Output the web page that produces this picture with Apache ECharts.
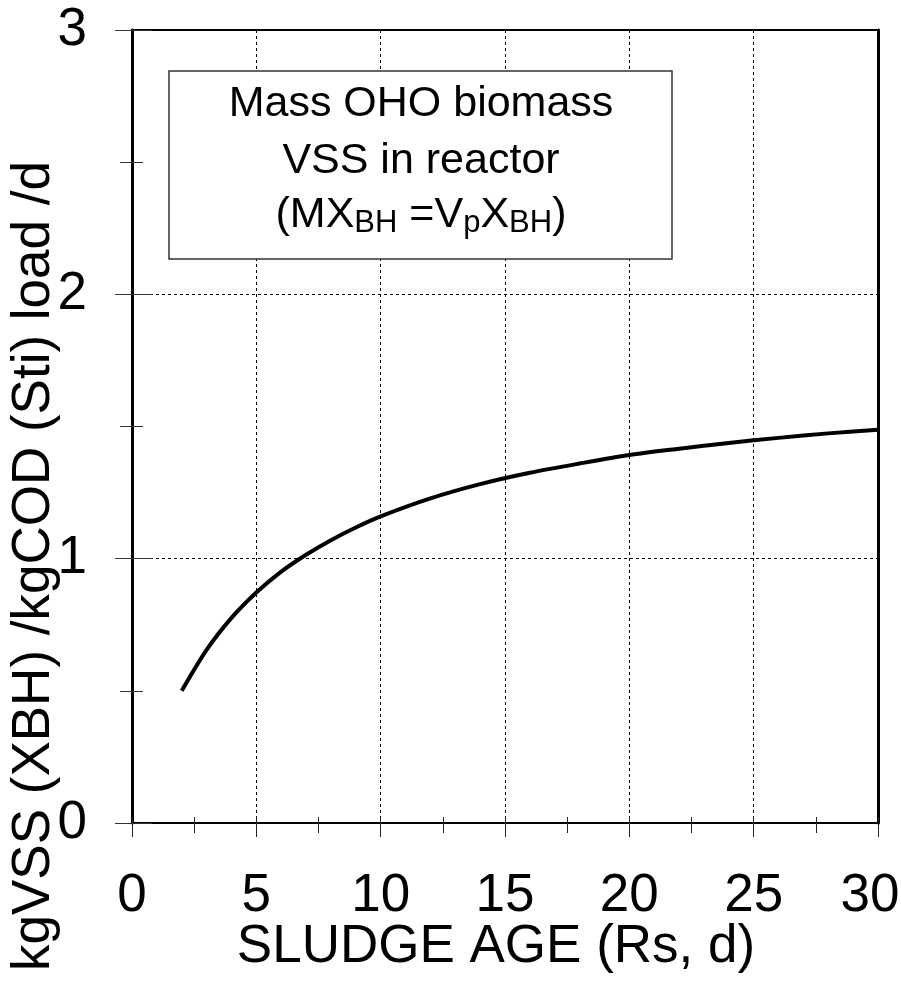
<!DOCTYPE html>
<html>
<head>
<meta charset="utf-8">
<script src="https://cdn.jsdelivr.net/npm/echarts@6/dist/echarts.min.js"></script>
<style>
html,body{margin:0;padding:0;background:#fff;overflow:hidden;width:901px;height:983px;}
#chart{position:absolute;left:0;top:0;width:901px;height:983px;}
</style>
</head>
<body>
<div id="chart"></div>
<script>
// Data
var sludgeAge = [2, 3, 4, 5, 6, 7, 8, 9, 10, 12, 14, 16, 18, 20, 22, 24, 26, 28, 30];
var biomassVSS = [0.50, 0.655, 0.776, 0.872, 0.951, 1.015, 1.07, 1.118, 1.16, 1.228, 1.282, 1.325, 1.36, 1.392, 1.416, 1.438, 1.457, 1.474, 1.488];
var xTicks = [0, 5, 10, 15, 20, 25, 30];
var yTicks = [0, 1, 2, 3];
var xTitle = 'SLUDGE AGE (Rs, d)';
var yTitle = 'kgVSS (XBH) /kgCOD (Sti) load /d';
var boxLines = ['Mass OHO biomass', 'VSS in reactor', '(MX{s|BH} =V{s|p}X{s|BH})'];

var FONT = '"Liberation Sans", Arial, sans-serif';
var chart = echarts.init(document.getElementById('chart'), null, {renderer: 'canvas', width: 901, height: 983});

var points = sludgeAge.map(function (x, i) { return [x, biomassVSS[i]]; });

var xMin = xTicks[0], xMax = xTicks[xTicks.length - 1];
var yMin = yTicks[0], yMax = yTicks[yTicks.length - 1];

var option = {
  backgroundColor: '#fff',
  animation: false,
  grid: {left: 132, right: 23, top: 30, bottom: 160, containLabel: false, outerBoundsMode: 'none'},
  xAxis: [
    {
      type: 'value', position: 'bottom', min: xMin, max: xMax, interval: 5,
      axisLine: {show: true, onZero: false, lineStyle: {color: '#000', width: 2}},
      axisTick: {show: true, inside: false, length: 14, lineStyle: {color: '#222', width: 1}},
      minorTick: {show: true, splitNumber: 2, length: 10, lineStyle: {color: '#222', width: 1}},
      axisLabel: {
        show: true, margin: 47, fontSize: 53, fontFamily: FONT, color: '#000', lineHeight: 53,
        formatter: function (v) { return v === xMax ? '{last|' + v + '}' : String(v); },
        rich: {last: {fontSize: 53, fontFamily: FONT, color: '#000', lineHeight: 53, padding: [0, 16, 0, 0]}}
      },
      splitLine: {show: true, lineStyle: {color: '#000', width: 1, type: [3, 3]}}
    },
    {
      type: 'value', position: 'bottom', min: xMin, max: xMax, interval: 5,
      axisLine: {show: false, onZero: false},
      axisTick: {show: true, inside: true, length: 6, lineStyle: {color: '#222', width: 1}},
      minorTick: {show: true, splitNumber: 2, length: 6, lineStyle: {color: '#222', width: 1}},
      axisLabel: {show: false},
      splitLine: {show: false}
    },
    {
      type: 'value', position: 'top', min: xMin, max: xMax, interval: 5,
      axisLine: {show: true, onZero: false, lineStyle: {color: '#000', width: 2}},
      axisTick: {show: false}, axisLabel: {show: false}, splitLine: {show: false}
    }
  ],
  yAxis: [
    {
      type: 'value', position: 'left', min: yMin, max: yMax, interval: 1,
      axisLine: {show: true, onZero: false, lineStyle: {color: '#000', width: 3}},
      axisTick: {show: true, inside: false, length: 17, lineStyle: {color: '#333', width: 1}},
      minorTick: {show: true, splitNumber: 2, length: 12, lineStyle: {color: '#333', width: 1}},
      axisLabel: {show: true, margin: 45, fontSize: 53, fontFamily: FONT, color: '#000', lineHeight: 53},
      splitLine: {show: true, lineStyle: {color: '#000', width: 1, type: [3, 3]}}
    },
    {
      type: 'value', position: 'left', min: yMin, max: yMax, interval: 1,
      axisLine: {show: false, onZero: false},
      axisTick: {show: true, inside: true, length: 20, lineStyle: {color: '#333', width: 1}},
      minorTick: {show: true, splitNumber: 2, length: 11, lineStyle: {color: '#333', width: 1}},
      axisLabel: {show: false},
      splitLine: {show: false}
    },
    {
      type: 'value', position: 'right', min: yMin, max: yMax, interval: 1,
      axisLine: {show: true, onZero: false, lineStyle: {color: '#000', width: 3}},
      axisTick: {show: false}, axisLabel: {show: false}, splitLine: {show: false}
    }
  ],
  series: [
    {
      type: 'line', xAxisIndex: 0, yAxisIndex: 0,
      data: points, smooth: 0.3, showSymbol: false, symbol: 'none',
      lineStyle: {color: '#000', width: 4}, z: 5
    }
  ],
  graphic: [
    {
      type: 'rect', z: 100,
      shape: {x: 169, y: 71, width: 503, height: 188},
      style: {fill: '#fff', stroke: '#333', lineWidth: 1.5}
    },
    {
      type: 'text', z: 101, x: 421, y: 104,
      style: {text: boxLines[0], font: '43px ' + FONT, fill: '#000', align: 'center', verticalAlign: 'middle'}
    },
    {
      type: 'text', z: 101, x: 421, y: 161,
      style: {text: boxLines[1], font: '43px ' + FONT, fill: '#000', align: 'center', verticalAlign: 'middle'}
    },
    {
      type: 'text', z: 101, x: 421, y: 215,
      style: {
        text: boxLines[2], font: '43px ' + FONT, fill: '#000', align: 'center', verticalAlign: 'middle',
        lineHeight: 48,
        rich: {
          s: {fontSize: 31, fontFamily: FONT, fill: '#000', verticalAlign: 'bottom', lineHeight: 44}
        }
      }
    },
    {
      type: 'text', z: 101, x: 496, y: 947,
      style: {text: xTitle, font: '53px ' + FONT, fill: '#000', align: 'center', verticalAlign: 'middle'}
    },
    {
      type: 'text', z: 101, x: 34, y: 566, rotation: Math.PI / 2,
      style: {text: yTitle, font: '53px ' + FONT, fill: '#000', align: 'center', verticalAlign: 'middle'}
    }
  ]
};
chart.setOption(option);
</script>
</body>
</html>
